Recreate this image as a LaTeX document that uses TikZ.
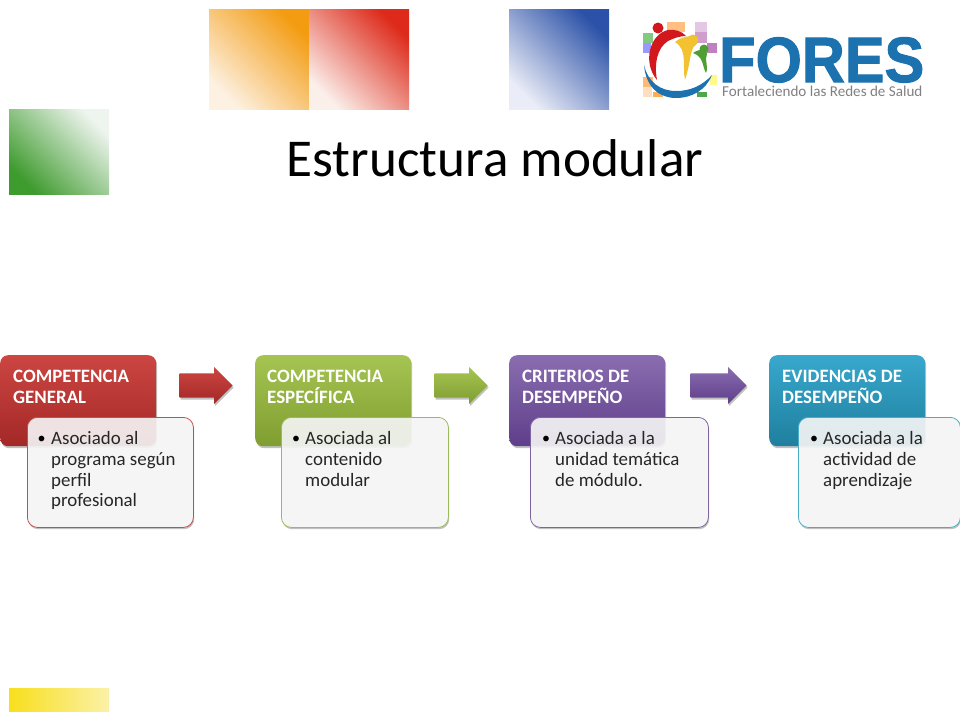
\documentclass[tikz,border=0pt]{standalone}
\usepackage{fontspec}
\setmainfont{Carlito}
\newfontfamily\logofont[FakeBold=1.6]{Liberation Sans}
\usetikzlibrary{shapes.arrows,shadows}
\definecolor{logoblue}{HTML}{1B72AE}
\definecolor{redA}{HTML}{CC4642}\definecolor{redB}{HTML}{A32826}\definecolor{redC}{HTML}{C0504D}
\definecolor{greenA}{HTML}{A6C452}\definecolor{greenB}{HTML}{7F9E30}\definecolor{greenC}{HTML}{9BBB59}
\definecolor{purpleA}{HTML}{8A6DB0}\definecolor{purpleB}{HTML}{5E3E8A}\definecolor{purpleC}{HTML}{8064A2}
\definecolor{tealA}{HTML}{38A8CC}\definecolor{tealB}{HTML}{1F7F9F}\definecolor{tealC}{HTML}{4BACC6}
\definecolor{sqOrange}{HTML}{F39C12}\definecolor{sqOrangeL}{HTML}{FDF1E2}
\definecolor{sqRed}{HTML}{DD2A1A}\definecolor{sqRedL}{HTML}{FBEFEA}\definecolor{sqBlue}{HTML}{2B52A8}\definecolor{sqBlueL}{HTML}{EAECF7}
\definecolor{sqGreen}{HTML}{3E9B2E}\definecolor{sqGreenL}{HTML}{EEF4EE}
\definecolor{sqYellow}{HTML}{F8DF1C}\definecolor{sqYellowL}{HTML}{FBF1A8}
\definecolor{logoRed}{HTML}{D2171D}\definecolor{logoYellow}{HTML}{F2C230}\definecolor{logoGreen}{HTML}{4E9E33}
\tikzset{
  x=1pt,y=-1pt,
  softshadow/.style={drop shadow={shadow xshift=1pt,shadow yshift=-2pt,opacity=.35,fill=black!70}},
  headbox/.style={rectangle,rounded corners=8pt,inner sep=0pt,anchor=north west,minimum width=156pt,minimum height=91pt,softshadow},
  subbase/.style={rectangle,rounded corners=10pt,inner sep=0pt,anchor=north west,minimum height=110pt},
  subback/.style={subbase,fill=white,softshadow},
  subbox/.style={subbase,fill=white!96!black,fill opacity=.91,line width=.8pt},
  headtext/.style={anchor=north west,inner sep=0pt,align=left,text=white,font=\fontsize{18.9}{21}\selectfont\bfseries},
  subtext/.style={anchor=north west,inner sep=0pt,align=left,text=black!85,font=\fontsize{18.9}{20.6}\selectfont},
  bulletmark/.style={anchor=center,inner sep=0pt,text=black,font=\fontsize{16}{16}\selectfont},
  blockarrow/.style={single arrow,draw=none,inner xsep=0pt,inner ysep=12pt,single arrow head extend=6.5pt,anchor=tip,softshadow},
  square/.style={rectangle,inner sep=0pt,anchor=north west,minimum width=100pt},
  tile/.style={rectangle,inner sep=0pt,anchor=north west}
}
\newcommand{\tilebox}[6]{\node[tile,fill=#6,minimum width=#4pt,minimum height=#5pt] (#1) at (#2,#3) {};}
\begin{document}
\begin{tikzpicture}
\useasboundingbox (0,0) rectangle (960,720);
% gradient squares
\node[square,minimum height=100pt,top color=sqOrangeL,bottom color=sqOrange,shading angle=135] (sqo) at (209,9) {};
\node[square,minimum height=100pt,top color=sqRedL,bottom color=sqRed,shading angle=135] (sqr) at (309,9) {};
\node[square,minimum height=100pt,top color=sqBlueL,bottom color=sqBlue,shading angle=135] (sqb) at (509,9) {};
\node[square,minimum height=85pt,top color=sqGreenL,bottom color=sqGreen,shading angle=-45] (sqg) at (9,109) {};
\node[square,minimum height=23pt,left color=sqYellow,right color=sqYellowL] (sqy) at (9,688) {};
% title
\node[anchor=base,inner sep=0pt,text=black,font=\fontsize{53.2}{53.2}\selectfont] (title) at (495,176) {Estructura modular};
% logo tiles
\tilebox{t1}{643}{33}{10}{10}{green!40!gray!70}
\tilebox{t2}{643}{43}{8}{10}{blue!40!white}
\tilebox{t3}{667}{22}{18}{10}{orange!50!white}
\tilebox{t4}{695}{22}{12}{10}{violet!22!white}
\tilebox{t5}{695}{32}{12}{11}{violet!38!white}
\tilebox{t6}{707}{43}{10}{10}{violet!50!white}
\tilebox{t7}{643}{77}{10}{10}{orange!55!white}
\tilebox{t8}{643}{87}{9}{10}{orange!25!white}
\tilebox{t9}{653}{92}{10}{5}{orange!65!white}
\tilebox{t10}{710}{75}{7}{10}{yellow!45!white}
\tilebox{t11}{697}{92}{10}{5}{green!50!black!70}
% logo figures
\fill[logoRed] (658,28) circle (5.5);
\fill[logoRed] (657,80) .. controls (642,62) and (650,34) .. (668,30) .. controls (674,29) and (682,31) .. (686,36) .. controls (680,36) and (674,38) .. (668,41) .. controls (657,48) and (654,64) .. (657,80) -- cycle;
\fill[logoYellow] (693,40) circle (5.5);
\fill[logoYellow] (675,42) .. controls (681,37) and (690,35) .. (696,37) -- (696,45) .. controls (690,47) and (691,62) .. (685,80) .. controls (682,66) and (688,50) .. (675,42) -- cycle;
\fill[logoGreen] (704,49) circle (4.5);
\fill[logoGreen] (693,53) .. controls (697,50) and (702,49) .. (706,50) -- (707,54) .. controls (704,60) and (709,66) .. (706,73) .. controls (702,66) and (704,57) .. (693,53) -- cycle;
\fill[logoblue] (644,65) .. controls (646,88) and (660,98) .. (676,98) .. controls (692,98) and (706,90) .. (712,75) .. controls (702,86) and (690,91) .. (676,91) .. controls (660,91) and (648,82) .. (644,65) -- cycle;
% logo text
\node[anchor=base west,inner sep=0pt,text=logoblue,xscale=.93,font=\logofont\bfseries\fontsize{64}{64}\selectfont] (fores) at (719,82) {FORES};
\node[anchor=base west,inner sep=0pt,text=black!50,font=\fontsize{15.1}{16}\selectfont] (lema) at (722,96) {Fortaleciendo las Redes de Salud};
% column 1
\node[subback,minimum width=166pt] (s1b) at (27,417) {};
\node[headbox,top color=redA,bottom color=redB] (h1) at (0,355) {};
\node[headtext] (h1t) at (13,370) {COMPETENCIA\\GENERAL};
\node[subbox,draw=redC,minimum width=166pt] (s1) at (27,417) {};
\node[bulletmark] (b1) at (41.5,439.5) {•};
\node[subtext] (s1t) at (51,431.5) {Asociado al\\programa según\\perfil\\profesional};
% column 2
\node[subback,minimum width=167pt] (s2b) at (281,417) {};
\node[headbox,top color=greenA,bottom color=greenB] (h2) at (255,355) {};
\node[headtext] (h2t) at (267,370) {COMPETENCIA\\ESPECÍFICA};
\node[subbox,draw=greenC,minimum width=167pt] (s2) at (281,417) {};
\node[bulletmark] (b2) at (296,439.5) {•};
\node[subtext] (s2t) at (305,431.5) {Asociada al\\contenido\\modular};
% column 3
\node[subback,minimum width=178pt] (s3b) at (530,417) {};
\node[headbox,top color=purpleA,bottom color=purpleB] (h3) at (509,355) {};
\node[headtext] (h3t) at (522,370) {CRITERIOS DE\\DESEMPEÑO};
\node[subbox,draw=purpleC,minimum width=178pt] (s3) at (530,417) {};
\node[bulletmark] (b3) at (546,439.5) {•};
\node[subtext] (s3t) at (555,431.5) {Asociada a la\\unidad temática\\de módulo.};
% column 4
\node[subback,minimum width=162pt] (s4b) at (798,417) {};
\node[headbox,top color=tealA,bottom color=tealB] (h4) at (769,355) {};
\node[headtext] (h4t) at (782,370) {EVIDENCIAS DE\\DESEMPEÑO};
\node[subbox,draw=tealC,minimum width=162pt] (s4) at (798,417) {};
\node[bulletmark] (b4) at (814,439.5) {•};
\node[subtext] (s4t) at (823,431.5) {Asociada a la\\actividad de\\aprendizaje};
% arrows
\node[blockarrow,minimum height=53pt,top color=redA,bottom color=redB] (a1) at (233,385.5) {};
\node[blockarrow,minimum height=53pt,top color=greenA,bottom color=greenB] (a2) at (488,385.5) {};
\node[blockarrow,minimum height=56pt,top color=purpleA,bottom color=purpleB] (a3) at (747,385.5) {};
\end{tikzpicture}
\end{document}
